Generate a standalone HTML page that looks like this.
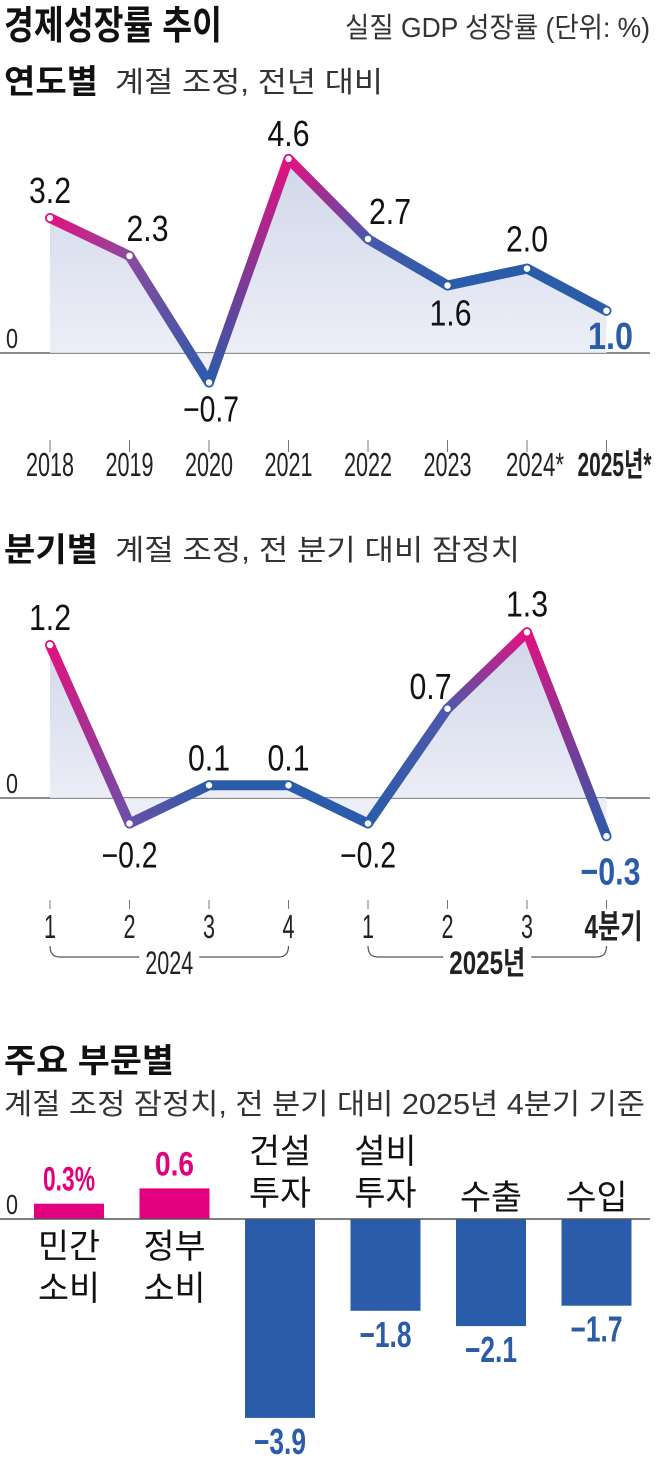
<!DOCTYPE html>
<html><head><meta charset="utf-8"><style>
html,body{margin:0;padding:0;background:#fff;}
svg{display:block;font-family:"Liberation Sans","Noto Sans CJK KR",sans-serif;}
</style></head><body>
<svg id="c" width="660" height="1476" viewBox="0 0 660 1476" xmlns="http://www.w3.org/2000/svg">
<defs>
<linearGradient id="area" x1="0" y1="0" x2="0" y2="1"><stop offset="0" stop-color="#c9d0e6"/><stop offset="1" stop-color="#eef0f8"/></linearGradient>
</defs>
<text x="4" y="39" font-size="39" font-weight="bold" fill="#111" textLength="218" lengthAdjust="spacingAndGlyphs">경제성장률 추이</text>
<text x="345" y="37" font-size="28" fill="#333" textLength="305" lengthAdjust="spacingAndGlyphs">실질 GDP 성장률 (단위: %)</text>
<text x="4" y="93" font-size="33" font-weight="bold" fill="#111" textLength="94" lengthAdjust="spacingAndGlyphs">연도별</text>
<text x="115" y="92" font-size="29" fill="#333" textLength="268" lengthAdjust="spacingAndGlyphs">계절 조정, 전년 대비</text>
<text x="4" y="561" font-size="33" font-weight="bold" fill="#111" textLength="94" lengthAdjust="spacingAndGlyphs">분기별</text>
<text x="115" y="560" font-size="29" fill="#333" textLength="405" lengthAdjust="spacingAndGlyphs">계절 조정, 전 분기 대비 잠정치</text>
<text x="4" y="1072" font-size="33" font-weight="bold" fill="#111" textLength="170" lengthAdjust="spacingAndGlyphs">주요 부문별</text>
<text x="4" y="1114" font-size="29" fill="#333" textLength="641" lengthAdjust="spacingAndGlyphs">계절 조정 잠정치, 전 분기 대비 2025년 4분기 기준</text>
<g id="g1"></g><g id="g2"></g><g id="g3"></g>
</svg>
<script>
const annualYears=['2018','2019','2020','2021','2022','2023','2024*','2025년*'];
const annualValues=[3.2,2.3,-0.7,4.6,2.7,1.6,2.0,1.0];
const annualLabels=['3.2','2.3','−0.7','4.6','2.7','1.6','2.0','1.0'];
const quarterTicks=['1','2','3','4','1','2','3','4분기'];
const quarterValues=[1.2,-0.2,0.1,0.1,-0.2,0.7,1.3,-0.3];
const quarterLabels=['1.2','−0.2','0.1','0.1','−0.2','0.7','1.3','−0.3'];
const sectorNames=[['민간','소비'],['정부','소비'],['건설','투자'],['설비','투자'],['수출'],['수입']];
const sectorValues=[0.3,0.6,-3.9,-1.8,-2.1,-1.7];
const sectorLabels=['0.3%','0.6','−3.9','−1.8','−2.1','−1.7'];

const NS='http://www.w3.org/2000/svg';
function mk(p,tag,at){const e=document.createElementNS(NS,tag);for(const k in at)e.setAttribute(k,at[k]);p.appendChild(e);return e;}
function txt(p,x,y,s,size,fill,bold,anchor,w){const t=mk(p,'text',{x:x,y:y,'font-size':size,fill:fill,'text-anchor':anchor||'middle'});if(bold)t.setAttribute('font-weight','bold');if(w){t.setAttribute('textLength',w);t.setAttribute('lengthAdjust','spacingAndGlyphs');}t.textContent=s;return t;}
const PINK='#e2117f',BLUE='#2a5ca9';
const xPos=i=>50+i*79.5;

function lineChart(g,vals,labels,cols,zero,scale,labelPos,prefix){
  const y=v=>zero-v*scale;
  const zl=mk(g,'line',{x1:0,x2:650,y1:zero,y2:zero,stroke:'#666','stroke-width':1.5});
  
  
  let pts=vals.map((v,i)=>xPos(i)+','+y(v)).join(' ');
  const a=mk(g,'polygon',{points:xPos(0)+','+zero+' '+pts+' '+xPos(vals.length-1)+','+zero,fill:'url(#area)',opacity:0.85});
  
  
  const z=txt(g,12,zero-5,'0',28,'#222',false,'middle',12);
  
  
  for(let i=0;i<vals.length-1;i++){
    const id=prefix+'grad'+i;
    const gr=mk(document.querySelector('defs'),'linearGradient',{id:id,gradientUnits:'userSpaceOnUse',x1:xPos(i),y1:y(vals[i]),x2:xPos(i+1),y2:y(vals[i+1])});
    mk(gr,'stop',{offset:0,'stop-color':cols[i]});mk(gr,'stop',{offset:1,'stop-color':cols[i+1]});
    const s=mk(g,'line',{x1:xPos(i),y1:y(vals[i]),x2:xPos(i+1),y2:y(vals[i+1]),stroke:'url(#'+id+')','stroke-width':10,'stroke-linecap':'round'});
    
    
  }
  vals.forEach((v,i)=>{
    const c=mk(g,'circle',{cx:xPos(i),cy:y(v),r:4,fill:'#fff',stroke:cols[i],'stroke-width':1.5});
    
    
    const last=i===vals.length-1;
    const lp=labelPos[i];
    const t=txt(g,xPos(i)+lp[0],y(v)+lp[1],labels[i],last?38:36,last?BLUE:'#111',last,'middle',labels[i].length*(last?15:14));
    
    
  });
}

const g1=document.getElementById('g1');
lineChart(g1,annualValues,annualLabels,[PINK,'#8c4a9f',BLUE,PINK,'#4a58ab',BLUE,BLUE,BLUE],353,42.2,
 [[0,-15],[18,-15],[2,39],[0,-13],[22,-15],[3,40],[0,-17],[4,38]],'annual');
annualYears.forEach((s,i)=>{
  const tk=mk(g1,'line',{x1:xPos(i),x2:xPos(i),y1:440,y2:452,stroke:'#777','stroke-width':1});
  
  
  const last=i===annualYears.length-1;
  const t=txt(g1,xPos(i)+(s.length>4?8:0),476,s,33,'#222',last,'middle',last?74:(s.length>4?58:48));
  
  
});

const g2=document.getElementById('g2');
lineChart(g2,quarterValues,quarterLabels,[PINK,'#6a50a8',BLUE,BLUE,BLUE,'#4e58ab',PINK,BLUE],798,127.5,
 [[0,-15],[0,44],[0,-15],[0,-15],[0,44],[-17,-10],[0,-16],[4,48]],'quarter');
quarterTicks.forEach((s,i)=>{
  const tk=mk(g2,'line',{x1:xPos(i),x2:xPos(i),y1:900,y2:909,stroke:'#777','stroke-width':1});
  
  
  const last=i===quarterTicks.length-1;
  const t=txt(g2,xPos(i)+(last?7:0),938,s,33,'#222',last,'middle',last?58:12);
  
  
});
[[0,3,'2024',false],[4,7,'2025년',true]].forEach(b=>{
  const x1=xPos(b[0]),x2=xPos(b[1]),cx=(x1+x2)/2,w=b[3]?76:48;
  const p=mk(g2,'path',{d:`M${x1},946 Q${x1},957 ${x1+10},957 L${cx-w/2-6},957 M${cx+w/2+6},957 L${x2-10},957 Q${x2},957 ${x2},946`,fill:'none',stroke:'#555','stroke-width':1.2});
  
  
  const t=txt(g2,cx,974,b[2],32,'#222',b[3],'middle',w);
  
  
});

const g3=document.getElementById('g3');
const ZERO3=1219,SC3=51,BW=70;
const bx=i=>69+i*105.5;
sectorValues.forEach((v,i)=>{
  const pos=v>=0,h=Math.abs(v)*SC3;
  const r=mk(g3,'rect',{x:bx(i)-BW/2,y:pos?ZERO3-h:ZERO3,width:BW,height:h,fill:pos?'#e3007f':BLUE});
  
  
  const vl=txt(g3,bx(i),pos?ZERO3-h-13:ZERO3+h+36,sectorLabels[i],pos?34:36,pos?'#e3007f':BLUE,true,'middle',sectorLabels[i].length*13);
  
  
  const n=sectorNames[i];
  n.forEach((s,j)=>{
    const yy=pos?ZERO3+39+j*42:(n.length===2?ZERO3-56+j*42:ZERO3-10);
    const t=txt(g3,bx(i),yy,s,34,'#111',false,'middle',62);
    
    
  });
});
const zl3=mk(g3,'line',{x1:0,x2:650,y1:ZERO3,y2:ZERO3,stroke:'#555','stroke-width':1.5});


const z3=txt(g3,12,ZERO3-5,'0',28,'#222',false,'middle',12);


</script>
</body></html>
